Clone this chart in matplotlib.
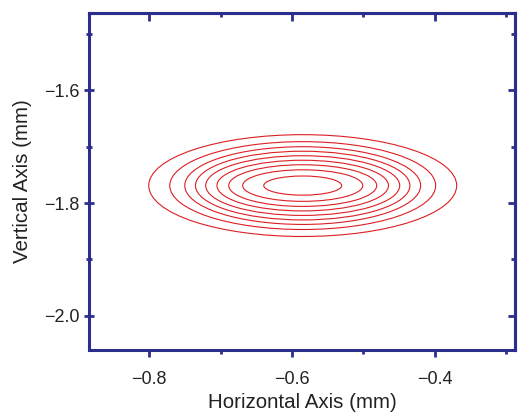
import matplotlib
matplotlib.use("Agg")
import matplotlib.pyplot as plt
from matplotlib.patches import Ellipse

# ---- data ----
center_x = -0.585
center_y = -1.769
# semi-axes of each contour (mm), outer -> inner
half_widths = [0.2154, 0.186, 0.165, 0.150, 0.1357, 0.120, 0.1035, 0.084, 0.0545]
half_heights = [0.0904, 0.078, 0.069, 0.061, 0.053, 0.045, 0.037, 0.028, 0.017]

x_major = [-0.8, -0.6, -0.4]
x_minor = [-0.7, -0.5, -0.3]
y_major = [-1.6, -1.8, -2.0]
y_minor = [-1.5, -1.7, -1.9]
x_labels = ["\u22120.8", "\u22120.6", "\u22120.4"]
y_labels = ["\u22121.6", "\u22121.8", "\u22122.0"]
xlim = (-0.884, -0.288)
ylim = (-2.061, -1.462)

navy = "#2b2e8c"
red = "#dc1f24"

plt.rcParams['font.family'] = ['Liberation Sans', 'DejaVu Sans']

fig = plt.figure(figsize=(5.18, 4.15), dpi=100)
ax = fig.add_axes([0.1718, 0.1566, 0.8224, 0.8128])

for w, h in zip(half_widths, half_heights):
    e = Ellipse((center_x, center_y), 2 * w, 2 * h, fill=False,
                edgecolor=red, linewidth=0.8)
    ax.add_patch(e)

ax.set_xlim(*xlim)
ax.set_ylim(*ylim)

for sp in ax.spines.values():
    sp.set_color(navy)
    sp.set_linewidth(2.2)

ax.set_xticks(x_major)
ax.set_xticklabels(x_labels)
ax.set_xticks(x_minor, minor=True)
ax.set_yticks(y_major)
ax.set_yticklabels(y_labels)
ax.set_yticks(y_minor, minor=True)

ax.tick_params(axis='x', which='major', direction='out', length=5, width=2,
               color=navy, labelsize=13, pad=10, top=False, labelcolor="#222222")
ax.tick_params(axis='x', which='minor', direction='out', length=3, width=2,
               color=navy, top=False)
ax.tick_params(axis='y', which='major', direction='inout', length=7, width=2,
               color=navy, labelsize=13, pad=3, right=False, labelcolor="#222222")
ax.tick_params(axis='y', which='minor', direction='inout', length=4, width=2,
               color=navy, right=False)

# top and right ticks point inward
sx = ax.secondary_xaxis('top')
sx.set_xticks(x_major)
sx.set_xticks(x_minor, minor=True)
sx.tick_params(axis='x', which='major', direction='in', length=5.5, width=2,
               color=navy, labeltop=False)
sx.tick_params(axis='x', which='minor', direction='in', length=3, width=2,
               color=navy)
sx.spines['top'].set_color(navy)
sx.spines['top'].set_linewidth(2.2)

sy = ax.secondary_yaxis('right')
sy.set_yticks(y_major)
sy.set_yticks(y_minor, minor=True)
sy.tick_params(axis='y', which='major', direction='in', length=5, width=2,
               color=navy, labelright=False)
sy.tick_params(axis='y', which='minor', direction='in', length=3, width=2,
               color=navy)
sy.spines['right'].set_color(navy)
sy.spines['right'].set_linewidth(2.2)

ax.set_xlabel("Horizontal Axis (mm)", fontsize=14.8, labelpad=4, color="#222222")
ax.set_ylabel("Vertical Axis (mm)", fontsize=14.8, labelpad=9, color="#222222")

fig.savefig("out.png", dpi=100)
